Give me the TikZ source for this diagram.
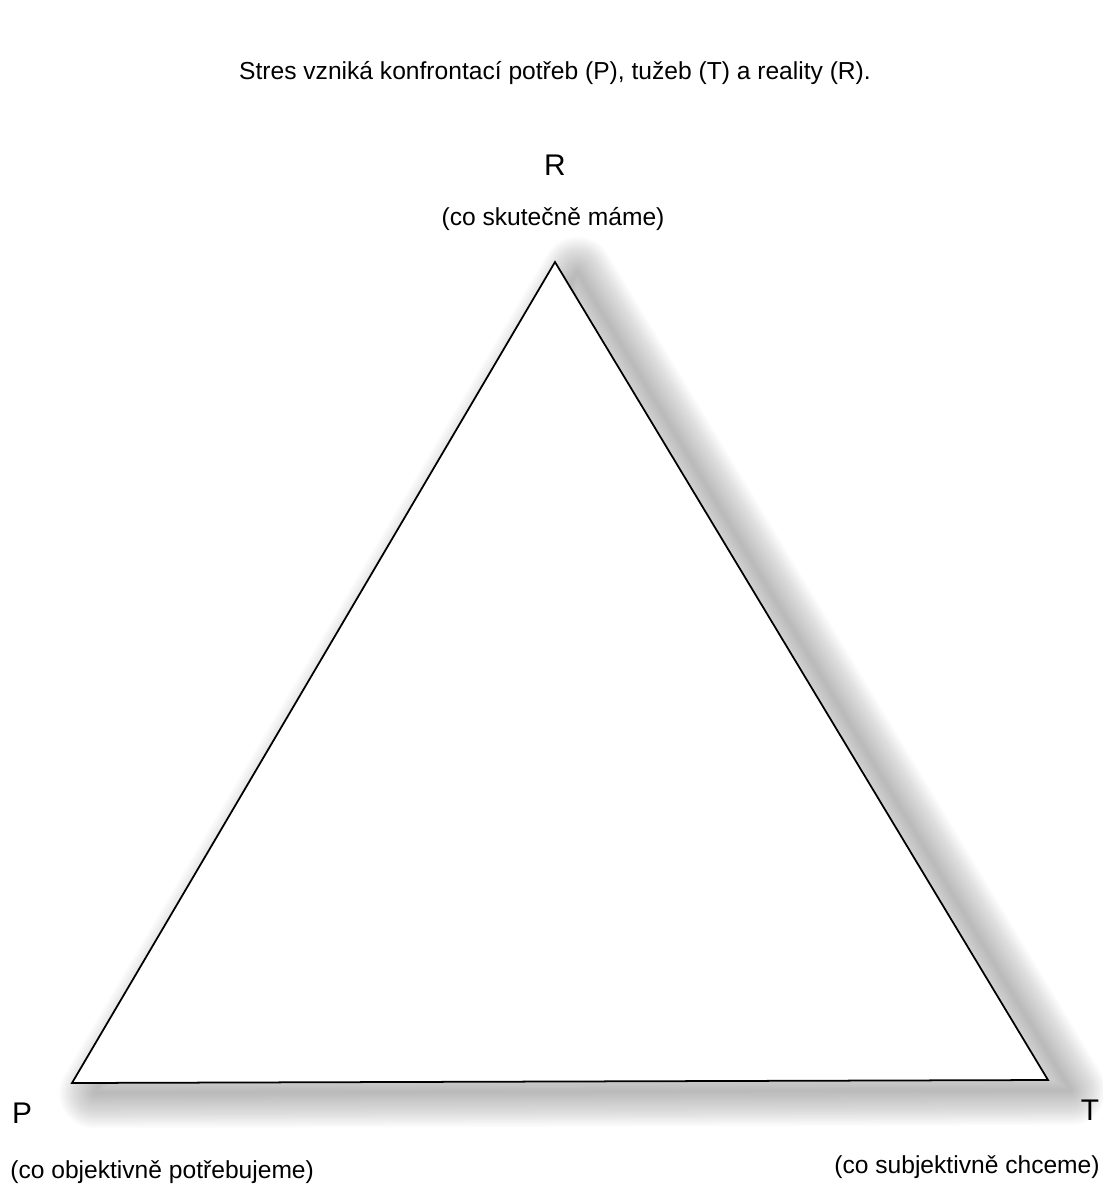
\documentclass[tikz,border=0pt]{standalone}
\usepackage{fontspec}
\setmainfont{Liberation Sans}
\usepackage{tikz}
\usetikzlibrary{calc}

\begin{document}
\begin{tikzpicture}

    \useasboundingbox (0,0) rectangle (22.06,-23.72);

    \coordinate (R) at (11.1,-5.24);
    \coordinate (P) at (1.44,-21.66);
    \coordinate (T) at (20.96,-21.6);

    % blurred shadow
    \foreach \w in {40,38,...,2}
        \draw[black, opacity=0.017, line width=\w pt, line join=round]
            ($(R)+(0.45,-0.2)$) -- ($(P)+(0.45,-0.2)$) -- ($(T)+(0.45,-0.2)$) -- cycle;
    \fill[white] (R) -- (P) -- (T) -- cycle;
    \draw[line width=1pt] (R) -- (P) -- (T) -- cycle;

    \node (title) at (11.1,-1.46) {\fontsize{14}{17}\selectfont Stres vzniká konfrontací potřeb (P), tužeb (T) a reality (R).};

    \node (labR) at (11.1,-3.3) {\fontsize{17}{20}\selectfont R};
    \node (subR) at (11.06,-4.38) {\fontsize{14}{17}\selectfont (co skutečně máme)};

    \node (labP) at (0.44,-22.26) {\fontsize{17}{20}\selectfont P};
    \node[anchor=west, inner sep=0pt] (subP) at (0.2,-23.44) {\fontsize{14}{17}\selectfont (co objektivně potřebujeme)};

    \node (labT) at (21.8,-22.2) {\fontsize{17}{20}\selectfont T};
    \node[anchor=east, inner sep=0pt] (subT) at (22.0,-23.34) {\fontsize{14}{17}\selectfont (co subjektivně chceme)};

\end{tikzpicture}
\end{document}
